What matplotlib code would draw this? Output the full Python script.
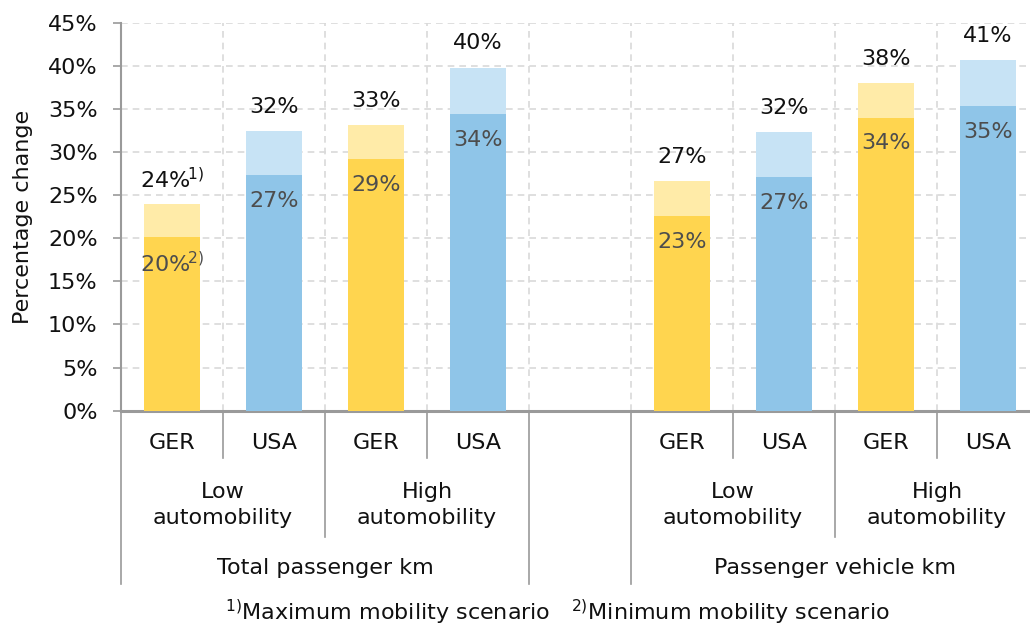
import matplotlib
matplotlib.use("Agg")
import matplotlib.pyplot as plt

plt.rcParams["font.family"] = ["DejaVu Sans"]
plt.rcParams["mathtext.fontset"] = "dejavusans"

countries = ["GER", "USA", "GER", "USA", "GER", "USA", "GER", "USA"]
scenarios = ["Low\nautomobility", "High\nautomobility", "Low\nautomobility", "High\nautomobility"]
measures = ["Total passenger km", "Passenger vehicle km"]

# minimum / maximum mobility scenario results, % change
min_values = [20.1, 27.3, 29.2, 34.4, 22.6, 27.1, 34.0, 35.3]
max_values = [24.0, 32.4, 33.1, 39.8, 26.6, 32.3, 38.0, 40.7]

yticks = list(range(0, 50, 5))

DARK = {"GER": "#FFD54F", "USA": "#8FC5E8"}
LIGHT = {"GER": "#FFEBA8", "USA": "#C7E3F5"}
AXIS = "#9A9A9A"
GRID = "#D9D9D9"
FS = 16

fig = plt.figure(figsize=(10.3, 6.29), dpi=100)
ax = fig.add_axes([121 / 1030, 1 - 410.7 / 629, 909 / 1030, 388 / 629])

# one empty slot between the two measures
xs = [i + (1 if i >= 4 else 0) for i in range(len(countries))]
width = 0.55

for x, c, lo, hi in zip(xs, countries, min_values, max_values):
    ax.bar(x, lo, width, color=DARK[c], zorder=3)
    ax.bar(x, hi - lo, width, bottom=lo, color=LIGHT[c], zorder=3)

for i, (x, lo, hi) in enumerate(zip(xs, min_values, max_values)):
    top = f"{hi:.0f}%"
    inner = f"{lo:.0f}%"
    if i == 0:
        top += r"$^{\!1)}$"
        inner += r"$^{\!2)}$"
    ax.text(x, hi + 2.8, top, ha="center", va="center", fontsize=FS, color="#111111", zorder=4)
    ax.text(x, lo - 3.0, inner, ha="center", va="center", fontsize=FS, color="#4D4D4D", zorder=4)

ax.set_xlim(-0.5, -0.5 + 909 / 102)
ax.set_ylim(0, 45)
ax.set_yticks(yticks)
ax.set_yticklabels([f"{t}%" for t in yticks], fontsize=FS, color="#111111")
ax.tick_params(axis="y", length=5.8, width=1.2, color=AXIS, pad=11)
ax.set_xticks([])

ax.grid(axis="y", color=GRID, linestyle=(0, (4, 3)), linewidth=1.2, zorder=0)
for b in [s + 0.5 for s in range(8)]:
    ax.axvline(b, color=GRID, linestyle=(0, (4, 3)), linewidth=1.2, zorder=0)

for side in ["top", "right"]:
    ax.spines[side].set_visible(False)
ax.spines["left"].set_color(AXIS)
ax.spines["left"].set_linewidth(1.5)
ax.spines["bottom"].set_color(AXIS)
ax.spines["bottom"].set_linewidth(2.2)

ax.set_ylabel("Percentage change", fontsize=FS, color="#111111")
ax.yaxis.set_label_coords(-88 / 909, 0.5)

# hierarchical category axis below the plot
tr = ax.get_xaxis_transform()
def frac(py):
    return -(py - 410.7) / 388

def sep(x, depth_px):
    ax.plot([x, x], [0, frac(depth_px)], transform=tr, color=AXIS, lw=1.2, clip_on=False)

for x, c in zip(xs, countries):
    ax.text(x, frac(443), c, transform=tr, ha="center", va="center", fontsize=FS, color="#111111")

for g, label in enumerate(scenarios):
    first = xs[2 * g]
    ax.text(first + 0.5, frac(505), label, transform=tr, ha="center", va="center",
            fontsize=FS, color="#111111", linespacing=1.35)

for m, label in enumerate(measures):
    first = xs[4 * m]
    ax.text(first + 1.5, frac(568), label, transform=tr, ha="center", va="center",
            fontsize=FS, color="#111111")

# separators: country / scenario / measure levels
sep(-0.5, 584)
for x in [0.5, 2.5, 5.5, 7.5]:
    sep(x, 458)
for x in [1.5, 6.5]:
    sep(x, 537)
for x in [3.5, 4.5]:
    sep(x, 584)

fig.text(557 / 1030, 1 - 612 / 629,
         r"$^{1)}$Maximum mobility scenario   $^{2)}$Minimum mobility scenario",
         ha="center", va="center", fontsize=FS, color="#111111")

fig.savefig("out.png", dpi=100)
